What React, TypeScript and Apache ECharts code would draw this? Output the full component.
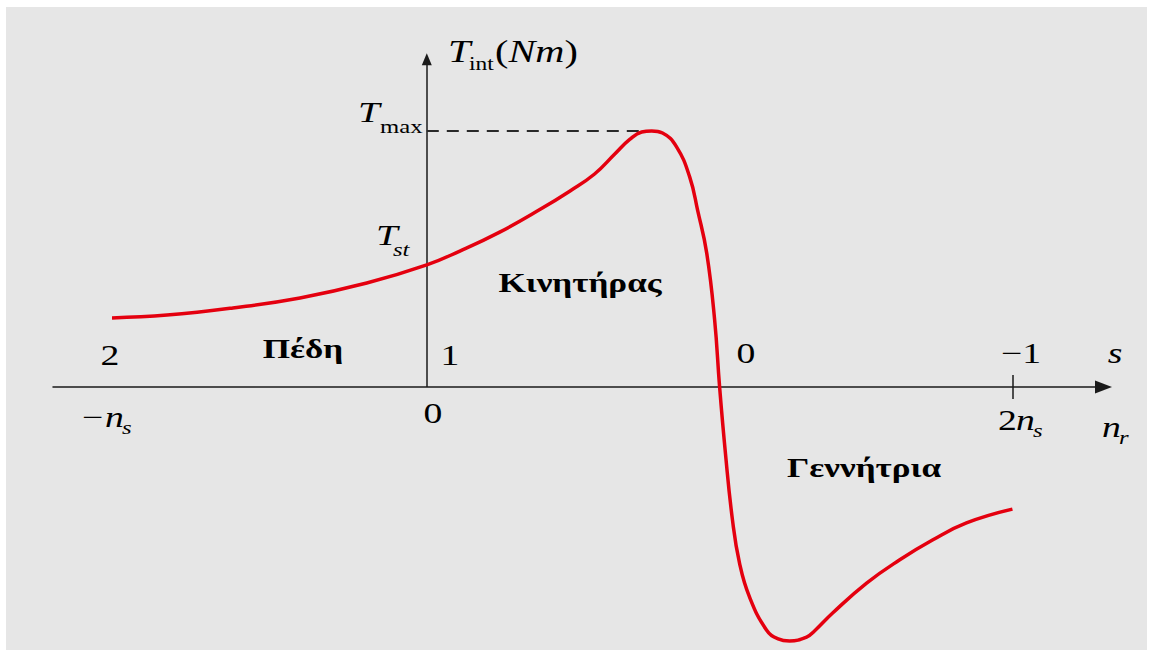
import React, { useEffect, useRef } from 'react';
import * as echarts from 'echarts';

// Torque–speed characteristic of an induction machine.
// Speed n_r in units of the synchronous speed n_s, torque in units of T_max.
const speed = [
  -1.075, -0.887, -0.662, -0.433, -0.205, 0, 0.113, 0.249, 0.386, 0.488, 0.573,
  0.642, 0.693, 0.734, 0.768, 0.805, 0.853, 0.898, 0.925, 0.956, 0.983, 1.0,
  1.02, 1.044, 1.068, 1.102, 1.16, 1.2, 1.239, 1.297, 1.324, 1.386, 1.502, 1.614,
  1.727, 1.843, 2.0,
];
const torque = [
  0.27, 0.281, 0.309, 0.348, 0.406, 0.477, 0.531, 0.605, 0.693, 0.765, 0.832,
  0.91, 0.967, 0.996, 1.0, 0.992, 0.938, 0.82, 0.69, 0.523, 0.262, 0,
  -0.26, -0.52, -0.688, -0.82, -0.949, -0.984, -0.992, -0.977, -0.953, -0.883, -0.766, -0.676,
  -0.598, -0.531, -0.477,
];

const T_MAX = 1.0;
const T_MAX_SPEED = 0.727; // where the dashed T_max guide meets the curve
const SPEED_MARK = 2; // 2 n_s tick on the speed axis

const slipLabels = ['2', '1', '0', '\u22121'];
const regionLabels = [
  '\u03a0\u03ad\u03b4\u03b7',
  '\u039a\u03b9\u03bd\u03b7\u03c4\u03ae\u03c1\u03b1\u03c2',
  '\u0393\u03b5\u03bd\u03bd\u03ae\u03c4\u03c1\u03b9\u03b1',
];

const FONT = '"Liberation Serif", "Times New Roman", serif';
const SX = 1.3; // the lettering is drawn wide

type TOpt = { size: number; italic?: boolean; bold?: boolean; align?: 'left' | 'center' | 'right' };

function label(text: string, x: number, baseline: number, o: TOpt, rich?: any) {
  const align = o.align ?? 'left';
  return {
    type: 'text',
    x,
    y: baseline - 0.34 * o.size,
    scaleX: SX,
    silent: true,
    z: 100,
    style: {
      text,
      x: 0,
      y: 0,
      fill: '#000',
      fontFamily: FONT,
      fontSize: o.size,
      fontStyle: o.italic ? 'italic' : 'normal',
      fontWeight: o.bold ? 'bold' : 'normal',
      align,
      textAlign: align,
      verticalAlign: 'middle',
      textVerticalAlign: 'middle',
      rich,
    },
  };
}

export default function App() {
  const ref = useRef<HTMLDivElement>(null);

  useEffect(() => {
    if (!ref.current) return;
    const chart = echarts.init(ref.current, undefined, { renderer: 'svg' });

    const curve = speed.map((s, i) => [s, torque[i]]);
    const axisColor = '#1a1a1a';

    const texts: any[] = [
      // torque axis title T_int(Nm)
      label('T', 448, 62, { size: 31, italic: true }),
      label('int', 469, 70, { size: 18 }),
      label('{p|(}{i|Nm}{p|)}', 495, 62, { size: 31 }, {
        p: { fontFamily: FONT, fontSize: 31, fontStyle: 'normal', fill: '#000' },
        i: { fontFamily: FONT, fontSize: 31, fontStyle: 'italic', fill: '#000' },
      }),
      // T_max and T_st
      label('T', 358, 122, { size: 30, italic: true }),
      label('max', 380, 133, { size: 19 }),
      label('T', 376, 245, { size: 30, italic: true }),
      label('st', 393, 256, { size: 19, italic: true }),
      // slip values above the axis
      label(slipLabels[0], 110, 365, { size: 29, align: 'center' }),
      label(slipLabels[1], 450, 365, { size: 29, align: 'center' }),
      label(slipLabels[2], 746, 363, { size: 29, align: 'center' }),
      label(slipLabels[3], 1021, 363, { size: 29, align: 'center' }),
      label('s', 1115, 363, { size: 29, italic: true, align: 'center' }),
      // rotor speed values below the axis
      label('\u2212', 82, 427, { size: 29 }),
      label('n', 105, 427, { size: 29, italic: true }),
      label('s', 122, 434, { size: 19, italic: true }),
      label('0', 433, 423, { size: 29, align: 'center' }),
      label('2', 998, 430, { size: 29 }),
      label('n', 1016, 430, { size: 29, italic: true }),
      label('s', 1033, 437, { size: 19, italic: true }),
      label('n', 1102, 437, { size: 29, italic: true }),
      label('r', 1119, 444, { size: 19, italic: true }),
      // operating regions
      label(regionLabels[0], 303, 358, { size: 27, bold: true, align: 'center' }),
      label(regionLabels[1], 580, 292, { size: 27, bold: true, align: 'center' }),
      label(regionLabels[2], 864, 477, { size: 27, bold: true, align: 'center' }),
    ];

    chart.setOption({
      animation: false,
      backgroundColor: '#ffffff',
      grid: { left: 53, right: 49.5, top: 50, bottom: 0, containLabel: false, outerBoundsMode: 'none' },
      xAxis: {
        type: 'value',
        min: -1.2765,
        max: 2.311,
        axisLine: {
          show: true,
          onZero: true,
          symbol: ['none', 'triangle'],
          symbolSize: [13, 17],
          lineStyle: { color: axisColor, width: 1.5 },
        },
        axisTick: { show: false },
        axisLabel: { show: false },
        splitLine: { show: false },
      },
      yAxis: {
        type: 'value',
        min: -1.0508,
        max: 1.3164,
        axisLine: { show: false },
        axisTick: { show: false },
        axisLabel: { show: false },
        splitLine: { show: false },
      },
      graphic: [
        {
          type: 'rect',
          shape: { x: 6, y: 7, width: 1141, height: 643 },
          style: { fill: '#e6e6e6' },
          z: -10,
          silent: true,
        },
        ...texts,
      ],
      series: [
        {
          type: 'line',
          data: curve,
          showSymbol: false,
          smooth: 0.45,
          clip: false,
          lineStyle: { color: '#e4000f', width: 3.5 },
          z: 5,
          markLine: {
            silent: true,
            animation: false,
            symbol: 'none',
            label: { show: false },
            emphasis: { disabled: true },
            data: [
              // torque axis
              [
                { coord: [0, 0], symbol: 'none', lineStyle: { color: axisColor, width: 1.5, type: 'solid' } },
                { coord: [0, 1.28], symbol: 'triangle', symbolSize: [10, 12] },
              ],
              // T_max guide
              [
                { coord: [0, T_MAX], symbol: 'none', lineStyle: { color: '#2a2a2a', width: 2, type: [12, 8] } },
                { coord: [T_MAX_SPEED, T_MAX], symbol: 'none' },
              ],
              // 2 n_s tick
              [
                { coord: [SPEED_MARK, -0.047], symbol: 'none', lineStyle: { color: axisColor, width: 1.5, type: 'solid' } },
                { coord: [SPEED_MARK, 0.047], symbol: 'none' },
              ],
            ],
          },
        },
      ],
    });

    return () => chart.dispose();
  }, []);

  return (
    <div
      ref={ref}
      style={{ position: 'fixed', left: 0, top: 0, width: 1153, height: 656 }}
    />
  );
}
